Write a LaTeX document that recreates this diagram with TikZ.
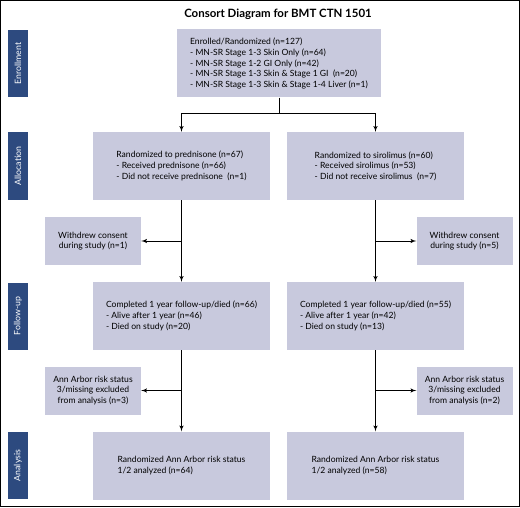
\documentclass[tikz,border=0pt]{standalone}
\usepackage{fontspec}
\setmainfont{Lato}
\usepackage{xcolor}
\usetikzlibrary{shapes,arrows,positioning}
\definecolor{boxfill}{HTML}{C8C9DD}
\definecolor{sideblue}{HTML}{2D4A7F}
\tikzstyle{line} = [draw, line width=1bp, -latex']
\tikzset{
    every node/.style={font=\fontsize{8.6}{10.7}\selectfont},
    box/.style={fill=boxfill, inner sep=0pt, minimum width=177bp, minimum height=68bp, align=left},
    sidebox/.style={fill=sideblue, text=white, inner sep=0pt, minimum width=67bp, minimum height=20bp, rotate=90, font=\fontsize{8.8}{10}\selectfont},
    smallbox/.style={fill=boxfill, inner sep=0pt, minimum width=96bp, minimum height=48bp, align=center}
}

\begin{document}
\begin{tikzpicture}[x=1bp,y=-1bp]
    \useasboundingbox (0,0) rectangle (520,508);
    \draw[line width=1bp] (0.5,0.5) rectangle (519.5,506);

    % Title
    \node[font=\fontsize{11.5}{13}\selectfont\bfseries] (title) at (278,14) {Consort Diagram for BMT CTN 1501};

    % Stage labels
    \node[sidebox] (senroll) at (18,63.5) {Enrollment};
    \node[sidebox] (salloc) at (18,166) {Allocation};
    \node[sidebox] (sfollow) at (18,316) {Follow-up};
    \node[sidebox] (sanalysis) at (18,465.5) {Analysis};

    % Enrollment
    \node[box, minimum width=204bp] (enroll) at (279,63.5) {Enrolled/Randomized (n=127)\\
        - MN-SR Stage 1-3 Skin Only (n=64)\\
        - MN-SR Stage 1-2 GI Only (n=42)\\
        - MN-SR Stage 1-3 Skin \& Stage 1 GI\ \ (n=20)\\
        - MN-SR Stage 1-3 Skin \& Stage 1-4 Liver (n=1)};

    % Allocation
    \node[box] (pred) at (181.5,166) {Randomized to prednisone (n=67)\\
        - Received prednisone (n=66)\\
        - Did not receive prednisone\ \ (n=1)};
    \node[box] (siro) at (375.5,166) {Randomized to sirolimus (n=60)\\
        - Received sirolimus (n=53)\\
        - Did not receive sirolimus\ \ (n=7)};

    % Withdrawn
    \node[smallbox] (wdpred) at (93,241) {Withdrew consent\\during study (n=1)};
    \node[smallbox] (wdsiro) at (464.5,241) {Withdrew consent\\during study (n=5)};

    % Follow-up
    \node[box] (fupred) at (181.5,316) {Completed 1 year follow-up/died (n=66)\\
        - Alive after 1 year (n=46)\\
        - Died on study (n=20)};
    \node[box] (fusiro) at (375.5,316) {Completed 1 year follow-up/died (n=55)\\
        - Alive after 1 year (n=42)\\
        - Died on study (n=13)};

    % Excluded
    \node[smallbox] (expred) at (93,390.5) {Ann Arbor risk status\\3/missing excluded\\from analysis (n=3)};
    \node[smallbox] (exsiro) at (464.5,390.5) {Ann Arbor risk status\\3/missing excluded\\from analysis (n=2)};

    % Analysis
    \node[box] (anpred) at (181.5,465.5) {Randomized Ann Arbor risk status\\1/2 analyzed (n=64)};
    \node[box] (ansiro) at (375.5,465.5) {Randomized Ann Arbor risk status\\1/2 analyzed (n=58)};

    % Connectors
    \coordinate (split) at (279,114);
    \draw[line width=1bp] (enroll) -- (split);
    \path[line] (split) -| (pred);
    \path[line] (split) -| (siro);
    \path[line] (pred) -- (fupred);
    \path[line] (siro) -- (fusiro);
    \path[line] (pred.south |- wdpred) -- (wdpred);
    \path[line] (siro.south |- wdsiro) -- (wdsiro);
    \path[line] (fupred) -- (anpred);
    \path[line] (fusiro) -- (ansiro);
    \path[line] (fupred.south |- expred) -- (expred);
    \path[line] (fusiro.south |- exsiro) -- (exsiro);
\end{tikzpicture}
\end{document}
